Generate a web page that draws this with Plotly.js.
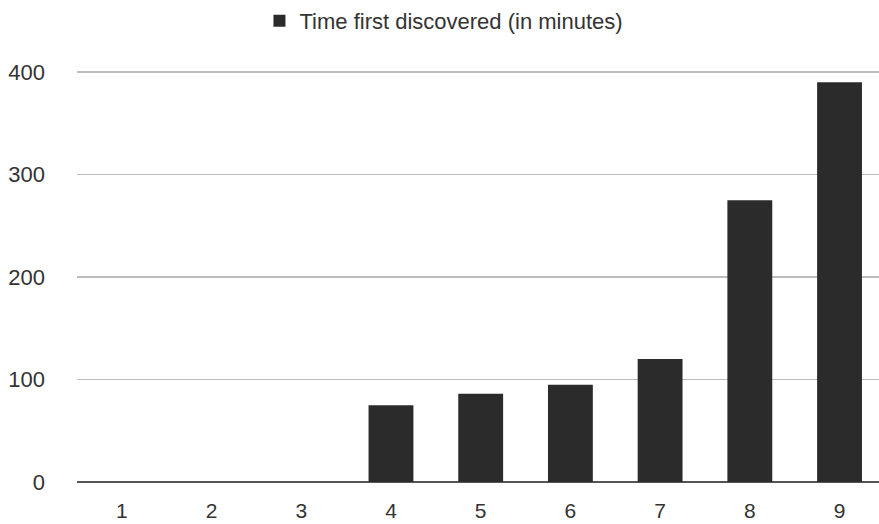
<!DOCTYPE html>
<html>
<head>
<meta charset="utf-8">
<script src="https://cdn.plot.ly/plotly-3.0.1.min.js"></script>
<style>html,body{margin:0;padding:0;background:#fff;}#chart{width:879px;height:524px;}</style>
</head>
<body>
<div id="chart"></div>
<script>
const categories = ["1", "2", "3", "4", "5", "6", "7", "8", "9"];
const timeFirstDiscovered = [0, 0, 0, 75, 86, 95, 120, 275, 390];
const seriesName = "Time first discovered (in minutes)";
const yTickValues = [0, 100, 200, 300, 400];

const trace = {
  type: "bar",
  x: categories,
  y: timeFirstDiscovered,
  name: seriesName,
  marker: {color: "#2b2b2b", line: {width: 0}},
  showlegend: true,
  hoverinfo: "x+y"
};

const layout = {
  width: 879,
  height: 524,
  margin: {l: 77, r: 0, t: 69, b: 42},
  paper_bgcolor: "#ffffff",
  plot_bgcolor: "#ffffff",
  font: {family: "Liberation Sans, Arial, sans-serif", size: 22, color: "#333333"},
  bargap: 0.5,
  showlegend: true,
  legend: {
    orientation: "h",
    x: 0.2275, xanchor: "left",
    y: 1.1186, yanchor: "middle",
    font: {size: 22, color: "#333333"}
  },
  xaxis: {
    type: "category",
    range: [-0.5, 8.44],
    showgrid: false,
    zeroline: false,
    showline: false,
    ticks: "",
    ticklabelstandoff: 14,
    tickfont: {size: 21, color: "#333333"}
  },
  yaxis: {
    range: [0, 402],
    tickvals: yTickValues,
    ticktext: yTickValues.map(String),
    showgrid: true,
    gridcolor: "#bdbdbd",
    gridwidth: 1.5,
    zeroline: true,
    zerolinecolor: "#555555",
    zerolinewidth: 2,
    showline: false,
    ticks: "",
    ticklabelstandoff: 31,
    tickfont: {size: 22, color: "#333333"}
  }
};

Plotly.newPlot("chart", [trace], layout, {displayModeBar: false, staticPlot: true});
</script>
</body>
</html>
